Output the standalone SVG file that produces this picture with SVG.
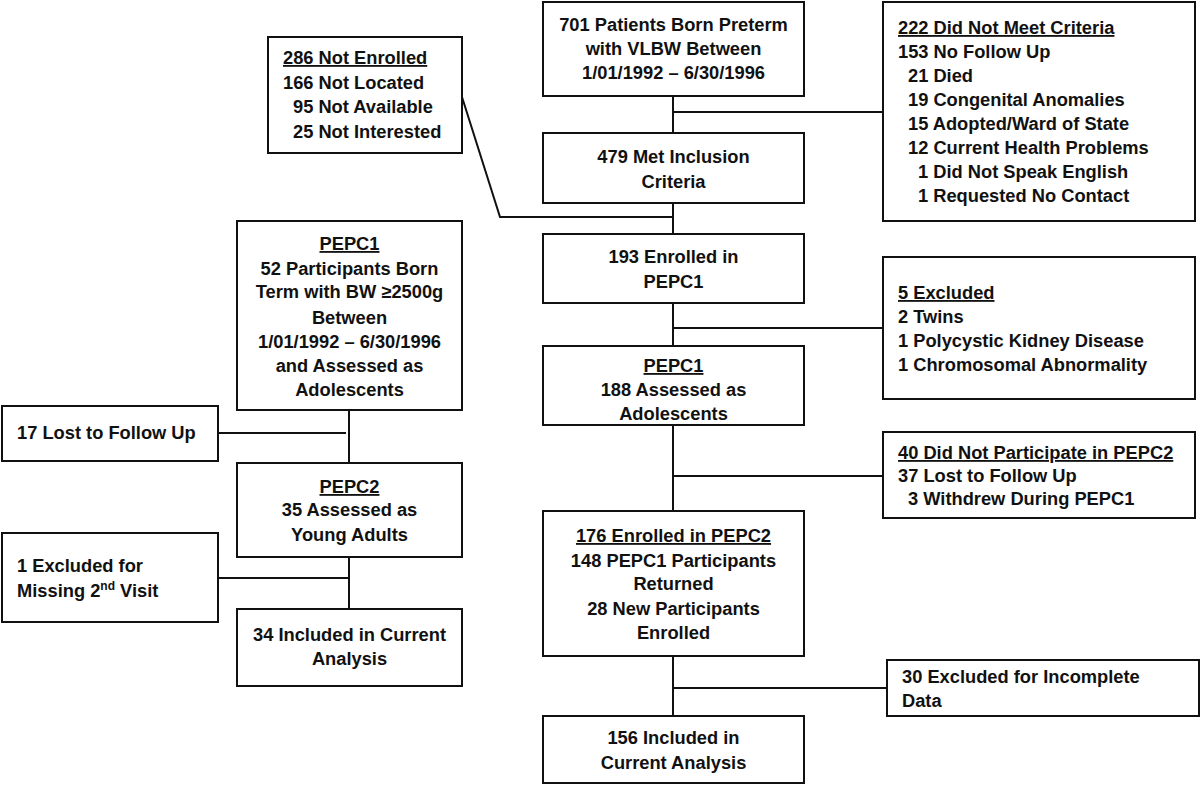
<svg xmlns="http://www.w3.org/2000/svg" width="1200" height="785" viewBox="0 0 1200 785">
<style>
.b{fill:#fff;stroke:#111;stroke-width:2}
.c{fill:none;stroke:#111;stroke-width:2}
text{font-family:"Liberation Sans",Arial,sans-serif;font-weight:bold;font-size:18.3px;fill:#111}
.m{text-anchor:middle}
.u{text-decoration:underline}
</style>
<rect width="1200" height="785" fill="#fff"/>
<g id="connectors">
<path class="c" d="M673,96V133M673,112H883"/>
<path class="c" d="M673,203V234M462,97L500,217H674"/>
<path class="c" d="M673,303V346M673,328H883"/>
<path class="c" d="M673,425V511M673,476H883"/>
<path class="c" d="M673,656V716M673,688H887"/>
<path class="c" d="M349,410V463M218,433H346"/>
<path class="c" d="M349,557V609M218,578H349"/>
</g>
<g id="n701">
<rect class="b" x="543" y="2" width="261" height="94"/>
<text class="m" x="673.5" y="31">701 Patients Born Preterm</text>
<text class="m" x="673.5" y="55">with VLBW Between</text>
<text class="m" x="673.5" y="79">1/01/1992 – 6/30/1996</text>
</g>
<g id="n222">
<rect class="b" x="883" y="2" width="312" height="219"/>
<text class="u" x="898" y="34">222 Did Not Meet Criteria</text>
<text x="898" y="58">153 No Follow Up</text>
<text x="908" y="82">21 Died</text>
<text x="908" y="106">19 Congenital Anomalies</text>
<text x="908" y="130">15 Adopted/Ward of State</text>
<text x="908" y="154">12 Current Health Problems</text>
<text x="918" y="178">1 Did Not Speak English</text>
<text x="918" y="202">1 Requested No Contact</text>
</g>
<g id="n286">
<rect class="b" x="268" y="37" width="194" height="116"/>
<text class="u" x="283" y="64">286 Not Enrolled</text>
<text x="283" y="89">166 Not Located</text>
<text x="293" y="113">95 Not Available</text>
<text x="293" y="138">25 Not Interested</text>
</g>
<g id="n479">
<rect class="b" x="543" y="133" width="261" height="70"/>
<text class="m" x="673.5" y="163">479 Met Inclusion</text>
<text class="m" x="673.5" y="188">Criteria</text>
</g>
<g id="n193">
<rect class="b" x="543" y="234" width="261" height="69"/>
<text class="m" x="673.5" y="263">193 Enrolled in</text>
<text class="m" x="673.5" y="288">PEPC1</text>
</g>
<g id="n5">
<rect class="b" x="883" y="257" width="312" height="142"/>
<text class="u" x="898" y="299">5 Excluded</text>
<text x="898" y="323">2 Twins</text>
<text x="898" y="347">1 Polycystic Kidney Disease</text>
<text x="898" y="371">1 Chromosomal Abnormality</text>
</g>
<g id="n188">
<rect class="b" x="543" y="346" width="261" height="79"/>
<text class="m u" x="673.5" y="372">PEPC1</text>
<text class="m" x="673.5" y="396">188 Assessed as</text>
<text class="m" x="673.5" y="420">Adolescents</text>
</g>
<g id="n40">
<rect class="b" x="883" y="432" width="312" height="86"/>
<text class="u" x="898" y="459">40 Did Not Participate in PEPC2</text>
<text x="898" y="482">37 Lost to Follow Up</text>
<text x="908" y="505">3 Withdrew During PEPC1</text>
</g>
<g id="n176">
<rect class="b" x="543" y="511" width="261" height="145"/>
<text class="m u" x="673.5" y="542">176 Enrolled in PEPC2</text>
<text class="m" x="673.5" y="567">148 PEPC1 Participants</text>
<text class="m" x="673.5" y="590">Returned</text>
<text class="m" x="673.5" y="615">28 New Participants</text>
<text class="m" x="673.5" y="639">Enrolled</text>
</g>
<g id="n30">
<rect class="b" x="887" y="660" width="312" height="56"/>
<text x="902" y="683">30 Excluded for Incomplete</text>
<text x="902" y="707">Data</text>
</g>
<g id="n156">
<rect class="b" x="543" y="716" width="261" height="67"/>
<text class="m" x="673.5" y="744">156 Included in</text>
<text class="m" x="673.5" y="769">Current Analysis</text>
</g>
<g id="n52">
<rect class="b" x="237" y="221" width="225" height="189"/>
<text class="m u" x="349.5" y="250">PEPC1</text>
<text class="m" x="349.5" y="275">52 Participants Born</text>
<text class="m" x="349.5" y="298">Term with BW ≥2500g</text>
<text class="m" x="349.5" y="324">Between</text>
<text class="m" x="349.5" y="348">1/01/1992 – 6/30/1996</text>
<text class="m" x="349.5" y="372">and Assessed as</text>
<text class="m" x="349.5" y="396">Adolescents</text>
</g>
<g id="n17">
<rect class="b" x="2" y="406" width="216" height="55"/>
<text x="17" y="439">17 Lost to Follow Up</text>
</g>
<g id="n35">
<rect class="b" x="237" y="463" width="225" height="94"/>
<text class="m u" x="349.5" y="493">PEPC2</text>
<text class="m" x="349.5" y="516">35 Assessed as</text>
<text class="m" x="349.5" y="541">Young Adults</text>
</g>
<g id="n1">
<rect class="b" x="2" y="533" width="216" height="89"/>
<text x="17" y="572">1 Excluded for</text>
<text x="17" y="597">Missing 2<tspan font-size="12" dy="-7">nd</tspan><tspan dy="7"> Visit</tspan></text>
</g>
<g id="n34">
<rect class="b" x="237" y="609" width="225" height="77"/>
<text class="m" x="349.5" y="641">34 Included in Current</text>
<text class="m" x="349.5" y="665">Analysis</text>
</g>
</svg>
